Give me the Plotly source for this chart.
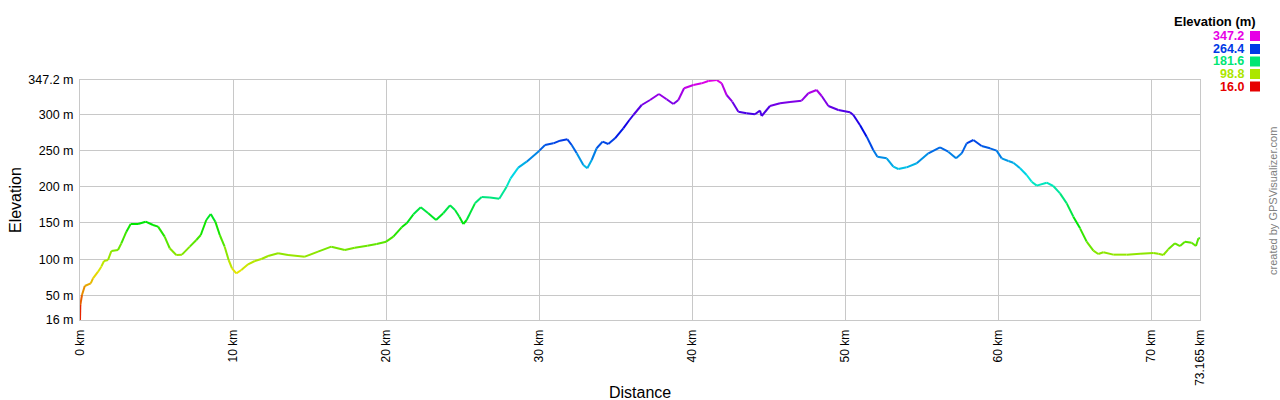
import colorsys
import plotly.graph_objects as go

# ---- data ----
dist_km = [0.00, 0.02, 0.13, 0.31, 0.70, 0.85, 1.18, 1.39, 1.57, 1.83, 2.05, 2.48, 2.70, 3.03, 3.31, 3.79,
           4.29, 4.77, 5.10, 5.53, 5.86, 6.29, 6.66, 7.17, 7.60, 7.89, 8.25, 8.54, 8.84, 9.13, 9.45, 9.71,
           9.93, 10.21, 10.54, 10.98, 11.42, 11.85, 12.29, 12.94, 13.59, 14.69, 15.55, 16.42, 17.30, 17.95,
           18.77, 19.38, 20.00, 20.47, 21.01, 21.34, 21.78, 22.26, 22.75, 23.26, 23.73, 24.17, 24.50, 24.78,
           25.04, 25.26, 25.80, 26.24, 26.78, 27.39, 27.87, 28.13, 28.63, 29.18, 30.01, 30.38, 30.92, 31.36,
           31.84, 32.12, 32.45, 32.88, 33.14, 33.43, 33.75, 34.14, 34.51, 34.95, 35.49, 35.89, 36.15, 36.69,
           37.24, 37.82, 38.32, 38.76, 39.09, 39.46, 40.07, 40.61, 41.05, 41.59, 41.92, 42.24, 42.61, 43.01,
           43.55, 44.09, 44.42, 44.53, 45.07, 45.73, 46.38, 47.14, 47.58, 48.12, 48.45, 48.89, 49.54, 50.30,
           50.52, 50.95, 51.39, 51.82, 52.09, 52.70, 53.13, 53.46, 54.00, 54.66, 55.42, 56.18, 56.72, 57.23,
           57.60, 57.92, 58.36, 58.90, 59.45, 59.88, 60.21, 60.65, 60.97, 61.41, 61.84, 62.17, 62.50, 63.15,
           63.58, 64.02, 64.46, 64.89, 65.33, 65.76, 66.20, 66.52, 66.85, 67.50, 68.37, 69.25, 70.12, 70.44,
           70.77, 71.09, 71.53, 71.86, 72.18, 72.62, 72.90, 73.06, 73.165]
elev_m = [16.0, 36.7, 50.5, 62.9, 66.6, 73.5, 82.7, 89.6, 97.4, 98.8, 111.2, 112.6, 121.8, 137.9, 148.5, 148.5,
          151.7, 147.1, 144.8, 131.0, 115.0, 105.7, 106.2, 117.2, 126.4, 133.3, 154.0, 162.3, 151.7, 133.3, 117.2, 98.8,
          87.3, 80.4, 85.0, 92.8, 97.4, 100.2, 104.3, 108.0, 105.7, 103.4, 110.3, 117.2, 112.6, 115.8,
          118.5, 120.9, 124.1, 131.0, 143.9, 149.4, 161.9, 171.5, 163.3, 154.0, 163.3, 174.3, 167.8, 158.6,
          148.5, 154.0, 177.0, 185.7, 185.2, 183.4, 200.0, 211.5, 226.2, 234.5, 249.7, 257.5, 259.8, 263.5,
          265.3, 257.5, 246.0, 229.9, 225.3, 236.8, 253.0, 262.1, 258.9, 266.7, 280.5, 292.0, 298.9, 312.7,
          319.6, 327.9, 320.6, 314.1, 319.6, 335.8, 340.3, 342.6, 345.8, 347.2, 342.6, 326.5, 317.3, 303.5,
          301.2, 299.9, 304.9, 297.5, 311.3, 315.1, 316.9, 318.7, 328.9, 333.4, 325.1, 311.3, 305.8, 302.6,
          298.9, 285.1, 269.0, 250.6, 241.4, 239.1, 227.6, 224.4, 226.7, 232.3, 246.0, 254.3, 248.3, 239.1,
          246.0, 259.8, 264.4, 256.1, 252.9, 249.7, 239.1, 235.4, 233.1, 225.4, 216.1, 206.9, 201.4, 205.5,
          200.9, 190.8, 177.0, 158.6, 142.5, 124.1, 111.7, 107.1, 109.4, 106.2, 106.2, 107.5, 108.5, 107.5,
          105.7, 113.5, 121.8, 118.1, 124.1, 122.7, 118.1, 128.7, 128.7]

x_tick_vals = [0, 10, 20, 30, 40, 50, 60, 70, 73.165]
x_tick_text = ["0 km", "10 km", "20 km", "30 km", "40 km", "50 km", "60 km", "70 km", "73.165 km"]
y_tick_vals = [16, 50, 100, 150, 200, 250, 300, 347.2]
y_tick_text = ["16 m", "50 m", "100 m", "150 m", "200 m", "250 m", "300 m", "347.2 m"]
legend_vals = [347.2, 264.4, 181.6, 98.8, 16.0]

E_MIN, E_MAX = 16.0, 347.2
X_MAX = 73.165
FONT = "Liberation Sans, Arial, sans-serif"


def elev_color(e):
    t = (e - E_MIN) / (E_MAX - E_MIN)
    t = min(max(t, 0), 1)
    r, g, b = colorsys.hsv_to_rgb(t * 300 / 360, 1.0, 0.9)
    return "rgb(%d,%d,%d)" % (round(r * 255), round(g * 255), round(b * 255))


fig = go.Figure()

# group segments by colour so each colour is one trace
groups = {}
for i in range(len(dist_km) - 1):
    c = elev_color((elev_m[i] + elev_m[i + 1]) / 2)
    xs, ys = groups.setdefault(c, ([], []))
    xs += [dist_km[i], dist_km[i + 1], None]
    ys += [elev_m[i], elev_m[i + 1], None]
for c, (xs, ys) in groups.items():
    fig.add_trace(go.Scatter(x=xs, y=ys, mode="lines", line=dict(color=c, width=2),
                             hoverinfo="skip", showlegend=False, connectgaps=False))

GRID = "#c8c8c8"
fig.update_layout(
    width=1280, height=400,
    margin=dict(l=80, r=80, t=80, b=80, autoexpand=False),
    paper_bgcolor="white", plot_bgcolor="white",
    font=dict(family=FONT, color="#000"),
    xaxis=dict(range=[0, X_MAX], tickvals=x_tick_vals, ticktext=x_tick_text, tickangle=-90,
               showgrid=True, gridcolor=GRID, gridwidth=1, zeroline=False,
               showline=True, linecolor=GRID, linewidth=1, mirror=True,
               ticks="outside", ticklen=4, tickcolor="rgba(0,0,0,0)",
               tickfont=dict(size=12, family=FONT, color="#000"), automargin=False),
    yaxis=dict(range=[E_MIN, E_MAX], tickvals=y_tick_vals, ticktext=y_tick_text,
               showgrid=True, gridcolor=GRID, gridwidth=1, zeroline=False,
               showline=True, linecolor=GRID, linewidth=1, mirror=True,
               ticks="outside", ticklen=3, tickcolor="rgba(0,0,0,0)",
               tickfont=dict(size=12.5, family=FONT, color="#000"), automargin=False),
)


def px_x(px):
    return (px - 80) / 1120.0


def px_y(py):
    return (320 - py) / 240.0


ann = []
ann.append(dict(text="Elevation", x=px_x(15), y=0.5, xref="paper", yref="paper", showarrow=False,
                textangle=-90, font=dict(size=16, family=FONT, color="#000"),
                xanchor="center", yanchor="middle"))
ann.append(dict(text="Distance", x=0.5, y=px_y(392), xref="paper", yref="paper", showarrow=False,
                font=dict(size=16, family=FONT, color="#000"), xanchor="center", yanchor="middle"))
ann.append(dict(text="created by GPSVisualizer.com", x=px_x(1273), y=px_y(201), xref="paper", yref="paper",
                showarrow=False, textangle=-90, font=dict(size=11, family=FONT, color="#808080"),
                xanchor="center", yanchor="middle"))
ann.append(dict(text="<b>Elevation (m)</b>", x=px_x(1258), y=px_y(22), xref="paper", yref="paper",
                showarrow=False, font=dict(size=13, family=FONT, color="#000"),
                xanchor="right", yanchor="middle"))

shapes = []
y_centers = [36, 49, 61.5, 74, 86.5]
for v, yc in zip(legend_vals, y_centers):
    col = elev_color(v)
    ann.append(dict(text="<b>%.1f</b>" % v, x=px_x(1246), y=px_y(yc), xref="paper", yref="paper",
                    showarrow=False, font=dict(size=12.5, family=FONT, color=col),
                    xanchor="right", yanchor="middle"))
    shapes.append(dict(type="rect", xref="paper", yref="paper",
                       x0=px_x(1250), x1=px_x(1260), y0=px_y(yc + 5), y1=px_y(yc - 5),
                       fillcolor=col, line=dict(width=0)))

fig.update_layout(annotations=ann, shapes=shapes)
fig.write_html("out.html", config={"displayModeBar": False},
               post_script="document.body.style.margin='0';document.body.style.padding='0';")
